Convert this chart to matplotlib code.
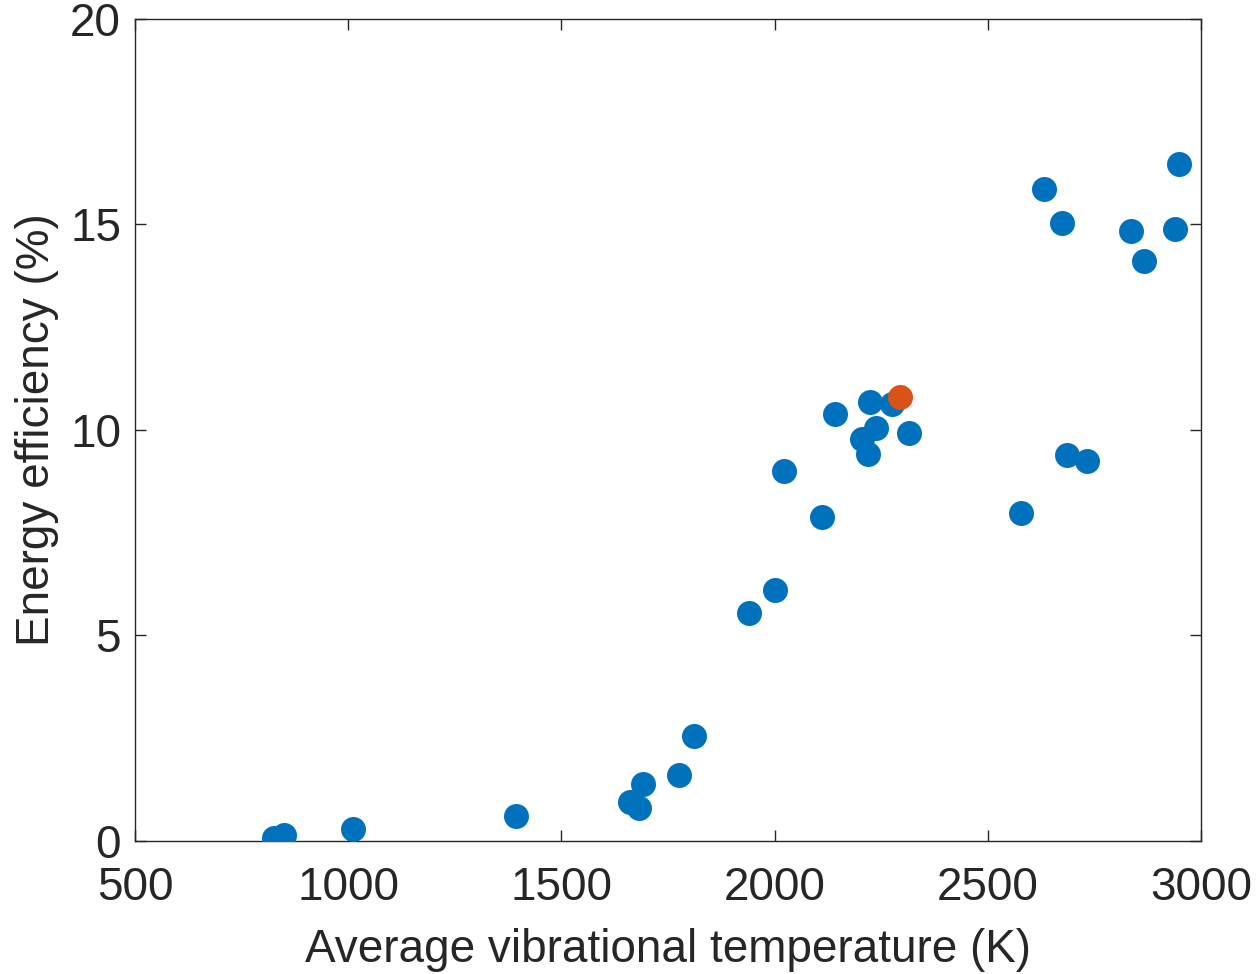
import matplotlib
matplotlib.use("Agg")
import matplotlib.pyplot as plt

# Data
temp_blue = [826, 850, 1011, 1393, 1661, 1682, 1691, 1776, 1811, 1940, 2001, 2022,
             2111, 2142, 2205, 2219, 2238, 2224, 2275, 2315, 2578, 2632, 2674, 2686,
             2733, 2836, 2866, 2939, 2948]
eff_blue = [0.06, 0.15, 0.28, 0.61, 0.95, 0.81, 1.39, 1.60, 2.55, 5.55, 6.11, 9.0,
            7.88, 10.40, 9.78, 9.42, 10.05, 10.68, 10.62, 9.93, 7.98, 15.86, 15.04, 9.39,
            9.25, 14.84, 14.11, 14.89, 16.47]
temp_orange = [2294]
eff_orange = [10.81]

xticks = [500, 1000, 1500, 2000, 2500, 3000]
yticks = [0, 5, 10, 15, 20]

plt.rcParams['font.family'] = ['Liberation Sans', 'DejaVu Sans']

fig = plt.figure(figsize=(12.6, 9.74), dpi=100)
ax = fig.add_axes([0.1071, 0.1366, 0.8461, 0.8439])

ax.plot(temp_blue, eff_blue, 'o', color='#0072BD', markersize=18, markeredgewidth=0, zorder=3)
ax.plot(temp_orange, eff_orange, 'o', color='#D95319', markersize=18, markeredgewidth=0, zorder=4)

ax.set_xlim(500, 3000)
ax.set_ylim(0, 20)
ax.set_xticks(xticks)
ax.set_yticks(yticks)
ax.tick_params(direction='in', length=8, width=1.0, top=True, right=True,
               labelsize=33, colors='#262626')
ax.tick_params(axis='x', pad=18)
ax.tick_params(axis='y', pad=10)
for s in ax.spines.values():
    s.set_linewidth(1.0)
    s.set_color('#262626')

ax.set_xlabel('Average vibrational temperature (K)', fontsize=33, color='#262626', labelpad=13)
ax.set_ylabel('Energy efficiency (%)', fontsize=33, color='#262626', labelpad=8)

fig.savefig('out.png', dpi=100)
